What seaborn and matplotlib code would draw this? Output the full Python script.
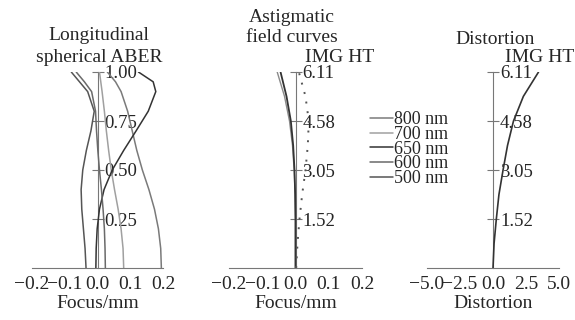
import numpy as np
import pandas as pd
import seaborn as sns
import matplotlib.pyplot as plt
from matplotlib.lines import Line2D

sns.set_style('white')
plt.rcParams['font.family'] = ['Liberation Serif', 'DejaVu Serif']
plt.rcParams['axes.unicode_minus'] = True

# ---- data ----
wavelengths = ['800 nm', '700 nm', '650 nm', '600 nm', '500 nm']
wl_colors = ['#7a7a7a', '#a0a0a0', '#333333', '#6a6a6a', '#555555']

# longitudinal spherical aberration, normalized pupil vs focus (mm)
pupil = [0.0, 0.1, 0.2, 0.3, 0.4, 0.5, 0.6, 0.7, 0.8, 0.9, 0.95, 1.0]
lsa_800 = [0.195, 0.193, 0.186, 0.174, 0.157, 0.137, 0.120, 0.106, 0.092, 0.072, 0.055, 0.030]
lsa_700 = [0.080, 0.078, 0.072, 0.063, 0.052, 0.042, 0.034, 0.027, 0.021, 0.014, 0.010, 0.006]
lsa_650 = [-0.005, -0.004, -0.001, 0.006, 0.020, 0.045, 0.080, 0.118, 0.155, 0.178, 0.170, 0.125]
lsa_600 = [0.024, 0.023, 0.021, 0.017, 0.012, 0.006, 0.001, -0.003, -0.006, -0.018, -0.040, -0.065]
lsa_500 = [-0.035, -0.038, -0.043, -0.048, -0.050, -0.045, -0.034, -0.020, -0.010, -0.030, -0.055, -0.080]

# astigmatic field curves, image height (mm) vs focus (mm)
img_ht = [0.0, 0.76, 1.52, 2.29, 3.05, 3.82, 4.58, 5.35, 6.11]
ast_s = [0.0, 0.0, 0.0, -0.001, -0.003, -0.007, -0.014, -0.027, -0.045]
ast_s2 = [0.0, 0.0, 0.0, -0.001, -0.004, -0.009, -0.018, -0.033, -0.055]
ast_t = [0.002, 0.006, 0.012, 0.020, 0.030, 0.037, 0.040, 0.030, 0.010]

# distortion (%) vs image height
dist = [0.0, 0.08, 0.25, 0.45, 0.76, 1.10, 1.55, 2.30, 3.45]

W, H = 575, 320
fig = plt.figure(figsize=(W / 100, H / 100), dpi=100)

def px_axes(x0, x1, ytop, ybot):
    return fig.add_axes([x0 / W, 1 - ybot / H, (x1 - x0) / W, (ybot - ytop) / H])

ax1 = px_axes(32, 163, 72, 268)
ax2 = px_axes(229, 362, 72, 268)
ax3 = px_axes(427, 559, 72, 268)

fs = 14
axis_col = '#777777'

def style_axis(ax, xlim, xticks, xlabels, ylim, yticks, ylabels, xlabel):
    ax.set_xlim(xlim)
    ax.set_ylim(ylim)
    for s in ['top', 'left']:
        ax.spines[s].set_visible(False)
    ax.spines['bottom'].set_color(axis_col)
    ax.spines['right'].set_color(axis_col)
    ax.spines['right'].set_position(('data', 0))
    ax.spines['right'].set_zorder(1)
    ax.yaxis.set_ticks_position('right')
    ax.set_xticks(xticks)
    ax.set_xticklabels(xlabels)
    ax.set_yticks(yticks)
    ax.set_yticklabels(ylabels)
    ax.tick_params(axis='x', direction='in', length=4, color=axis_col,
                   labelsize=fs, pad=6)
    ax.tick_params(axis='y', direction='inout', length=8, color=axis_col,
                   labelsize=fs - 0.5, pad=1)
    ax.set_xlabel(xlabel, fontsize=fs, labelpad=1)
    ax.set_ylabel('')
    ax.patch.set_alpha(0)

# panel 1: longitudinal spherical aberration
rows = []
for name, vals in zip(wavelengths, [lsa_800, lsa_700, lsa_650, lsa_600, lsa_500]):
    for p, v in zip(pupil, vals):
        rows.append({'wl': name, 'pupil': p, 'focus': v})
lsa_df = pd.DataFrame(rows)
sns.lineplot(data=lsa_df, x='focus', y='pupil', hue='wl', hue_order=wavelengths,
             palette=wl_colors, orient='y', estimator=None, sort=True,
             linewidth=1.1, legend=False, ax=ax1)
style_axis(ax1, (-0.2, 0.2), [-0.2, -0.1, 0.0, 0.1, 0.2],
           ['\u22120.2', '\u22120.1', '0.0', '0.1', '0.2'],
           (0, 1), [0.25, 0.5, 0.75, 1.0], ['0.25', '0.50', '0.75', '1.00'],
           'Focus/mm')

# panel 2: astigmatic field curves
ast_df = pd.DataFrame({'ht': img_ht, 's': ast_s, 's2': ast_s2, 't': ast_t})
sns.lineplot(data=ast_df, x='s2', y='ht', orient='y', color='#8a8a8a',
             linewidth=1.0, ax=ax2)
sns.lineplot(data=ast_df, x='s', y='ht', orient='y', color='#333333',
             linewidth=1.3, ax=ax2)
sns.lineplot(data=ast_df, x='t', y='ht', orient='y', color='#555555',
             linewidth=1.4, linestyle=(0, (1, 4)), ax=ax2)
style_axis(ax2, (-0.2, 0.2), [-0.2, -0.1, 0.0, 0.1, 0.2],
           ['\u22120.2', '\u22120.1', '0.0', '0.1', '0.2'],
           (0, 6.11), [1.52, 3.05, 4.58, 6.11], ['1.52', '3.05', '4.58', '6.11'],
           'Focus/mm')

# panel 3: distortion
dist_df = pd.DataFrame({'ht': img_ht, 'dist': dist})
sns.lineplot(data=dist_df, x='dist', y='ht', orient='y', color='#333333',
             linewidth=1.2, ax=ax3)
style_axis(ax3, (-5, 5), [-5, -2.5, 0, 2.5, 5],
           ['\u22125.0', '\u22122.5', '0.0', '2.5', '5.0'],
           (0, 6.11), [1.52, 3.05, 4.58, 6.11], ['1.52', '3.05', '4.58', '6.11'],
           'Distortion')

# titles
def ftext(x, y, s):
    fig.text(x / W, 1 - y / H, s, ha='center', va='center', fontsize=fs)

ftext(99, 36, 'Longitudinal')
ftext(99, 57, 'spherical ABER')
ftext(292, 17, 'Astigmatic')
ftext(292, 38, 'field curves')
ftext(340, 57, 'IMG HT')
ftext(495, 40, 'Distortion')
ftext(540, 57, 'IMG HT')

# legend
handles = [Line2D([], [], color=c, linewidth=1.1) for c in wl_colors]
fig.legend(handles, wavelengths, loc='upper left',
           bbox_to_anchor=(370 / W, 1 - 111 / H), frameon=False, fontsize=13,
           handlelength=1.3, handletextpad=0.05, labelspacing=-0.12,
           borderpad=0, borderaxespad=0)

fig.savefig('out.png', dpi=100)
